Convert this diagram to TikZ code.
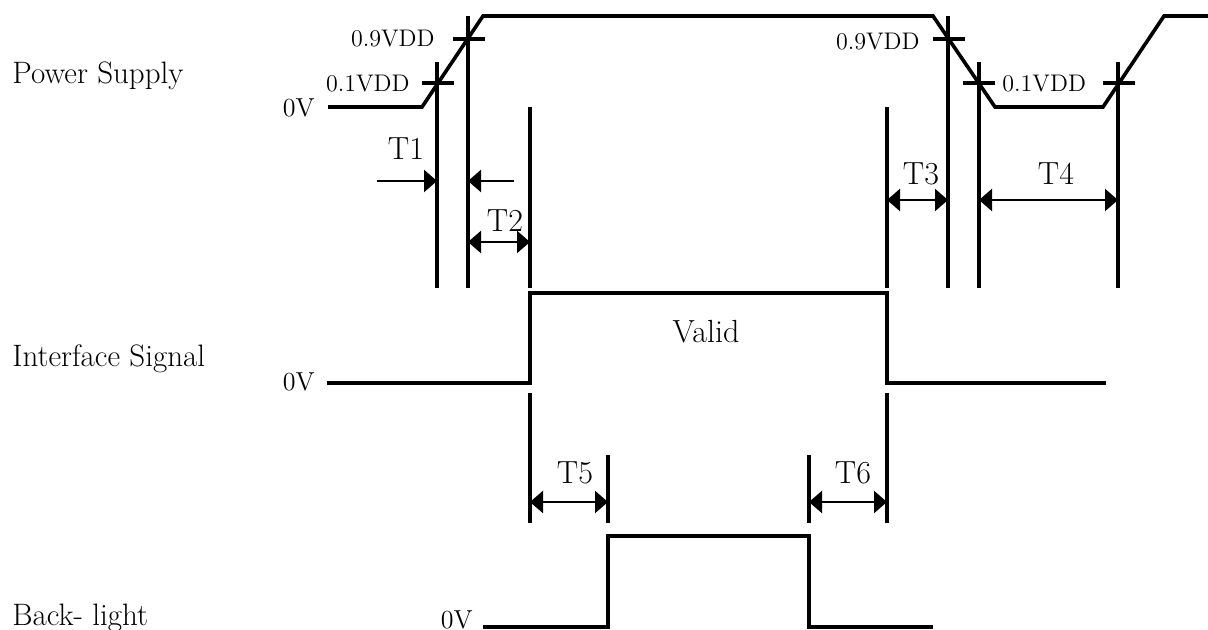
\documentclass[tikz,border=0pt]{standalone}
\usepackage{amsmath}
\usetikzlibrary{arrows.meta}

\begin{document}
\begin{tikzpicture}[x=0.5pt,y=-0.5pt,
    wave/.style={line width=1.8pt,line join=miter},
    marker/.style={line width=1.8pt},
    tick/.style={line width=1.8pt},
    dimarrow/.style={line width=1.2pt,-{Triangle[length=6.5pt,width=11pt]}},
    dimboth/.style={line width=1.2pt,{Triangle[length=6.5pt,width=11pt]}-{Triangle[length=6.5pt,width=11pt]}},
    sig/.style={font=\fontsize{15.5}{18}\selectfont,anchor=base west,inner sep=0pt},
    zero/.style={font=\fontsize{13}{15}\selectfont,anchor=base east,inner sep=0pt},
    lvl/.style={font=\fontsize{12}{14}\selectfont,inner sep=0pt},
    tlabel/.style={font=\fontsize{16}{18}\selectfont,anchor=base,inner sep=0pt}]
  \useasboundingbox (0,0) rectangle (1208,630);

  % waveforms
  \draw[wave] (328,107) -- (422,107) -- (483,16) -- (933,16) -- (995,107)
    -- (1103,107) -- (1164,16) -- (1208,16);
  \draw[wave] (327,383) -- (530,383) -- (530,293) -- (887,293) -- (887,383) -- (1106,383);
  \draw[wave] (483,627) -- (608,627) -- (608,536) -- (809,536) -- (809,627) -- (933,627);

  % level ticks
  \foreach \x/\y in {438/83, 469/39, 949/39, 979/83, 1119/83}
    \draw[tick] (\x-16,\y) -- (\x+16,\y);

  % timing markers
  \foreach \name/\x/\top/\bot in {a/437/62/288, b/468/16/288, c/530/107/288,
      d/887/107/288, e/948/16/288, f/979/62/288, g/1118/62/288,
      h/530/393/523, i/887/393/523, j/608/455/523, k/809/455/523}
  {
    \coordinate (\name1) at (\x,\top);
    \coordinate (\name2) at (\x,\bot);
    \draw[marker] (\name1) -- (\name2);
  }

  % dimension arrows
  \coordinate (t1tail) at (377,181);
  \coordinate (t2tail) at (514,181);
  \coordinate (yB) at (0,242);
  \coordinate (yC) at (0,200);
  \coordinate (yD) at (0,502);
  \draw[dimarrow] (t1tail) -- (a1 |- t1tail);
  \draw[dimarrow] (t2tail) -- (b1 |- t2tail);
  \draw[dimboth] (b1 |- yB) -- (c1 |- yB);
  \draw[dimboth] (d1 |- yC) -- (e1 |- yC);
  \draw[dimboth] (f1 |- yC) -- (g1 |- yC);
  \draw[dimboth] (h1 |- yD) -- (j1 |- yD);
  \draw[dimboth] (k1 |- yD) -- (i1 |- yD);

  % labels
  \node[sig] (ps) at (12,84) {Power Supply};
  \node[sig] (is) at (12,366) {Interface Signal};
  \node[sig] (bl) at (12,625) {Back- light};
  \node[zero] (z1) at (315,117) {0V};
  \node[zero] (z2) at (315,390) {0V};
  \node[zero] (z3) at (473,628) {0V};
  \node[lvl,anchor=base east] (v9a) at (435,47) {0.9VDD};
  \node[lvl,anchor=base east] (v1a) at (410,92) {0.1VDD};
  \node[lvl,anchor=base east] (v9b) at (920,50) {0.9VDD};
  \node[lvl,anchor=base west] (v1b) at (1002,92) {0.1VDD};
  \node[tlabel] (t1) at (406,160) {T1};
  \node[tlabel] (t2) at (505,232) {T2};
  \node[tlabel] (t3) at (921,185) {T3};
  \node[tlabel] (t4) at (1056,185) {T4};
  \node[tlabel] (t5) at (575,483) {T5};
  \node[tlabel] (t6) at (853,483) {T6};
  \node[tlabel] (valid) at (706,343) {Valid};
\end{tikzpicture}
\end{document}
